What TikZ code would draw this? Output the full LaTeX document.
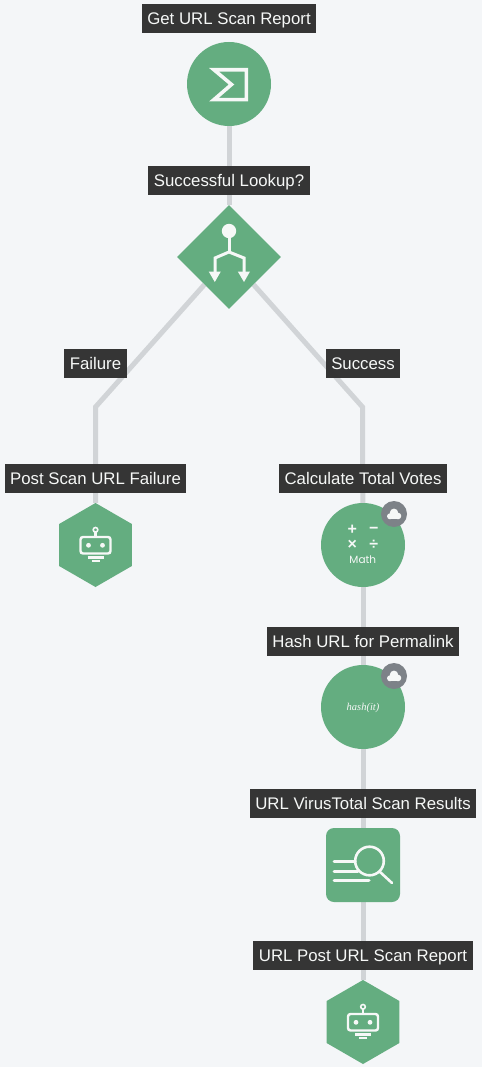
\documentclass[tikz,border=0pt]{standalone}
\usepackage{fontspec}
\setmainfont{Liberation Sans}
\newfontfamily\mathfont{Poppins}
\newfontfamily\hashfont{Liberation Serif}
\usepackage{tikz}
\usetikzlibrary{positioning,shapes.geometric,backgrounds}
\definecolor{pagebg}{HTML}{F4F6F8}
\definecolor{stepgreen}{HTML}{64AD80}
\definecolor{linkgray}{HTML}{D1D4D7}
\definecolor{capdark}{HTML}{2E2E2E}
\definecolor{badgegray}{HTML}{7D8288}
\definecolor{inkwhite}{HTML}{F6F8F7}

\tikzset{
    robot/.pic={
        \draw[icon, rounded corners=2.5pt] (-15,8.5) -- (-15,-8) -- (15,-8) -- (15,8.5) -- cycle;
        \draw[icon] (0,-8) -- (0,-12.8);
        \draw[icon, line width=1.6pt] (0,-15.2) circle (2.3);
        \fill[inkwhite] (-7,0.3) circle (2.4) (7,0.3) circle (2.4);
        \draw[icon] (-8,12.3) -- (8,12.3);
        \draw[icon] (-4,16) -- (4,16);
    },
    cloudmark/.pic={
        \fill[inkwhite] (-4,2.3) circle (3) (4,2) circle (3.3) (0,-1.2) circle (4.2);
        \fill[inkwhite] (-4,1.5) rectangle (4,5.3);
    }
}

\begin{document}
\begin{tikzpicture}[
                x=1pt, y=-1pt,
                roundstep/.style={circle, fill=stepgreen, inner sep=0pt, minimum size=84pt},
                splitstep/.style={diamond, aspect=1, fill=stepgreen, inner sep=0pt, minimum size=104pt},
                hexstep/.style={regular polygon, regular polygon sides=6, shape border rotate=30, fill=stepgreen, inner sep=0pt, minimum size=84pt},
                squarestep/.style={rectangle, rounded corners=8pt, fill=stepgreen, inner sep=0pt, minimum size=74pt},
                stepcap/.style={fill=capdark, fill opacity=0.96, text opacity=1, text=inkwhite, inner xsep=5.5pt, inner ysep=0pt, text height=14pt, text depth=2pt, minimum height=28.5pt, font=\fontsize{16.8}{20}\selectfont},
                link/.style={draw=linkgray, line width=5pt, line join=miter},
                icon/.style={draw=inkwhite, line width=2.4pt},
                bar/.style={draw=inkwhite, line width=3pt, line cap=round},
                badge/.style={circle, fill=badgegray, inner sep=0pt, minimum size=26pt}
            ]
                \useasboundingbox (0,0) rectangle (482,1067);

                % Top: report and split
                \node[roundstep] (report) at (229,84) {};
                \node[splitstep] (lookup) at (229,257) {};

                % Left branch
                \coordinate (failbend) at (95.5,407);
                \node[hexstep] (failpost) at (95.5,545) {};

                % Right branch
                \coordinate (passbend) at (362.5,407);
                \node[roundstep] (votes) at (363,545) {};
                \node[roundstep] (hashurl) at (363,707) {};
                \node[squarestep] (results) at (363,865) {};
                \node[hexstep] (postreport) at (363,1022) {};

                % Badges
                \node[badge] (votesbadge) at (394,514) {};
                \node[badge] (hashbadge) at (394,676) {};
                \pic at (394,514) {cloudmark};
                \pic at (394,676) {cloudmark};

                % Links
                \begin{scope}[on background layer]
                    \fill[pagebg] (0,0) rectangle (482,1067);
                    \draw[link] (report) -- (lookup);
                    \draw[link] (lookup) -- (failbend) -- (failpost);
                    \draw[link] (lookup) -- (passbend) -- (votes);
                    \draw[link] (votes) -- (hashurl);
                    \draw[link] (hashurl) -- (results);
                    \draw[link] (results) -- (postreport);
                \end{scope}

                % Captions
                \node[stepcap, above=9pt of report] (reportcap) {Get URL Scan Report};
                \node[stepcap, above=10pt of lookup] (lookupcap) {Successful Lookup?};
                \node[stepcap] (failcap) at (95.5,363.7) {Failure};
                \node[stepcap] (passcap) at (363,363.7) {Success};
                \node[stepcap, above=10pt of failpost] (failpostcap) {Post Scan URL Failure};
                \node[stepcap, above=10pt of votes] (votescap) {Calculate Total Votes};
                \node[stepcap, above=9pt of hashurl] (hashcap) {Hash URL for Permalink};
                \node[stepcap, above=10pt of results] (resultscap) {URL VirusTotal Scan Results};
                \node[stepcap, above=10pt of postreport] (postcap) {URL Post URL Scan Report};

                % Sigma icon
                \draw[icon, line width=3.6pt] (214,69.8) -- (246.4,69.8) -- (246.4,99.6) -- (214,99.6) -- (231.5,84.5) -- cycle;

                % Split icon
                \fill[inkwhite] (229,231) circle (7.2);
                \draw[icon, line width=3pt] (229,231) -- (229,252);
                \draw[icon, line width=3pt] (215,274) -- (215,258) -- (229,252) -- (244,258) -- (244,274);
                \fill[inkwhite] (208.7,271.5) -- (220.8,271.5) -- (214.8,282) -- cycle;
                \fill[inkwhite] (237.8,271.5) -- (250,271.5) -- (244,282) -- cycle;

                % Math icon
                \node[text=inkwhite, inner sep=0pt, font=\fontsize{16}{16}\selectfont\bfseries] (plus) at (352.3,530.3) {+};
                \node[text=inkwhite, inner sep=0pt, font=\fontsize{16}{16}\selectfont\bfseries] (minus) at (373.7,530.5) {−};
                \node[text=inkwhite, inner sep=0pt, font=\fontsize{16}{16}\selectfont\bfseries] (times) at (352.3,545) {×};
                \node[text=inkwhite, inner sep=0pt, font=\fontsize{16}{16}\selectfont\bfseries] (divide) at (373.7,545) {÷};
                \node[text=inkwhite, inner sep=0pt, font=\mathfont\fontsize{10.5}{10.5}\selectfont] (mathname) at (362.8,560) {Math};

                % Hash icon
                \node[text=inkwhite, inner sep=0pt, font=\hashfont\itshape\fontsize{10.5}{10.5}\selectfont] (hashname) at (363,708) {hash(it)};

                % Search icon
                \draw[icon, line width=2.6pt] (369.5,861) circle (14.3);
                \draw[icon, line width=2.6pt, line cap=round] (379.5,871.5) -- (392,883);
                \draw[bar] (334,861.7) -- (355,861.7);
                \draw[bar] (334,871.7) -- (358,871.7);
                \draw[bar] (334,880.7) -- (369,880.7);

                % Robots
                \pic at (95.5,545) {robot};
                \pic at (363,1022) {robot};
            \end{tikzpicture}
\end{document}
